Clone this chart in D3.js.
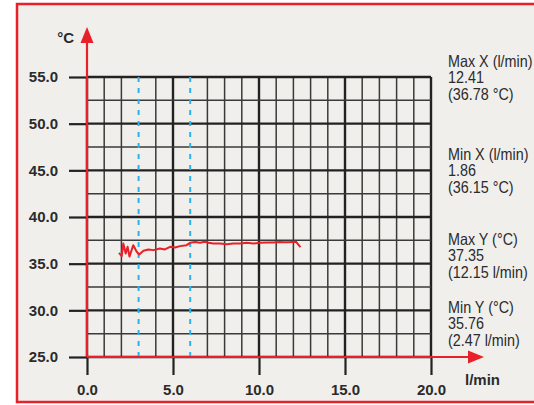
<!DOCTYPE html>
<html>
<head>
<meta charset="utf-8">
<script src="https://cdn.jsdelivr.net/npm/d3@7"></script>
<style>
  body { margin: 0; background: #fff; }
  text { font-family: "Liberation Sans", Arial, sans-serif; fill: #2b2b2b; }
</style>
</head>
<body>
<div id="canvas"></div>
<script>
// flow (l/min) vs temperature (°C) trace
const flow = [1.86, 2.02, 2.11, 2.25, 2.36, 2.47, 2.69, 2.89, 3.04, 3.28, 3.57, 3.86, 4.24, 4.53, 4.83, 5.12,
    5.41, 5.79, 5.99, 6.28, 6.57, 6.86, 7.05, 7.34, 7.73, 8.12, 8.51, 8.90, 9.28, 9.67, 10.06, 10.45,
    10.83, 11.22, 11.41, 11.71, 12.15, 12.41];
const temp = [36.15, 35.80, 37.16, 36.09, 36.81, 35.76, 36.98, 36.27, 35.98, 36.38, 36.52, 36.45, 36.63, 36.52, 36.81, 36.74,
    36.88, 36.98, 37.23, 37.31, 37.23, 37.34, 37.23, 37.16, 37.16, 37.09, 37.16, 37.16, 37.23, 37.16, 37.23, 37.27,
    37.27, 37.31, 37.30, 37.30, 37.35, 36.78];

const xTicks = [0, 5, 10, 15, 20];
const yTicks = [25, 30, 35, 40, 45, 50, 55];
const markers = [3, 6];

const stats = [
    ["Max X (l/min)", "12.41", "(36.78 °C)"],
    ["Min X (l/min)", "1.86", "(36.15 °C)"],
    ["Max Y (°C)", "37.35", "(12.15 l/min)"],
    ["Min Y (°C)", "35.76", "(2.47 l/min)"]
];
const statTop = [67, 160, 245, 313];

const red = "#e8202a";
const width = 534;
const height = 405;
const margin = { top: 77, left: 87, bottom: 48, right: 103 };
const iwidth = width - margin.left - margin.right;
const iheight = height - margin.top - margin.bottom;

const svg = d3.select("#canvas").append("svg")
    .attr("width", width)
    .attr("height", height);

// panel
svg.append("rect")
    .attr("x", 17).attr("y", 4)
    .attr("width", 540).attr("height", 398)
    .attr("fill", "#f0efeb")
    .attr("stroke", red)
    .attr("stroke-width", 2.5);

const g = svg.append("g").attr("transform", `translate(${margin.left},${margin.top})`);

const x = d3.scaleLinear().domain([0, 20]).range([0, iwidth]);
const y = d3.scaleLinear().domain([25, 55]).range([iheight, 0]);

// grid
const vLines = d3.range(0, 21).filter(v => !markers.includes(v));
g.selectAll(".vgrid").data(vLines).enter().append("line")
    .attr("x1", d => x(d)).attr("x2", d => x(d))
    .attr("y1", 0).attr("y2", iheight)
    .attr("stroke", d => d % 5 === 0 ? "#222" : "#3a3a3a")
    .attr("stroke-width", d => d % 5 === 0 ? 2.4 : 1.5);

const hLines = d3.range(25, 55.1, 2.5);
g.selectAll(".hgrid").data(hLines).enter().append("line")
    .attr("x1", 0).attr("x2", iwidth)
    .attr("y1", d => y(d)).attr("y2", d => y(d))
    .attr("stroke", d => d % 5 === 0 ? "#222" : "#3a3a3a")
    .attr("stroke-width", d => d % 5 === 0 ? 2.4 : 1.5);

g.selectAll(".marker").data(markers).enter().append("line")
    .attr("x1", d => x(d)).attr("x2", d => x(d))
    .attr("y1", 0).attr("y2", iheight)
    .attr("stroke", "#29b3ee")
    .attr("stroke-width", 2)
    .attr("stroke-dasharray", "5,6");

// axes
const yAxis = g.append("g")
    .call(d3.axisLeft(y).tickValues(yTicks).tickFormat(d3.format(".1f")).tickSize(18).tickPadding(11));
const xAxis = g.append("g")
    .attr("transform", `translate(0, ${iheight})`)
    .call(d3.axisBottom(x).tickValues(xTicks).tickFormat(d3.format(".1f")).tickSize(18).tickPadding(9));
[yAxis, xAxis].forEach(a => {
    a.select(".domain").remove();
    a.selectAll("line").attr("stroke", "#222").attr("stroke-width", 2.2);
    a.selectAll("text")
        .attr("fill", "#2b2b2b")
        .style("font-family", '"Liberation Sans", Arial, sans-serif')
        .style("font-weight", "bold")
        .style("font-size", "15px");
});

// trace
g.append("path")
    .datum(flow.map((f, i) => [f, temp[i]]))
    .attr("fill", "none")
    .attr("stroke", red)
    .attr("stroke-width", 2)
    .attr("stroke-linejoin", "round")
    .attr("d", d3.line().x(d => x(d[0])).y(d => y(d[1])));

// red axes with arrows
g.append("line")
    .attr("x1", 0).attr("x2", 0).attr("y1", iheight).attr("y2", -36)
    .attr("stroke", red).attr("stroke-width", 2.2);
g.append("path")
    .attr("d", `M-6.5,-34L0,-50L6.5,-34Z`)
    .attr("fill", red);
g.append("line")
    .attr("x1", 0).attr("x2", iwidth + 40).attr("y1", iheight).attr("y2", iheight)
    .attr("stroke", red).attr("stroke-width", 2.2);
g.append("path")
    .attr("d", `M${iwidth + 37},${iheight - 6.5}L${iwidth + 53},${iheight}L${iwidth + 37},${iheight + 6.5}Z`)
    .attr("fill", red);

// units
svg.append("text")
    .attr("x", 74).attr("y", 43)
    .attr("text-anchor", "end")
    .style("font-weight", "bold").style("font-size", "15px")
    .text("°C");
svg.append("text")
    .attr("x", 465).attr("y", 385)
    .style("font-weight", "bold").style("font-size", "15px")
    .text("l/min");

// stats (condensed look)
stats.forEach((s, i) => {
    const t = svg.append("text")
        .attr("transform", `translate(448,${statTop[i]}) scale(0.87,1)`)
        .style("font-size", "16.5px");
    s.forEach((line, j) => {
        t.append("tspan").attr("x", 0).attr("dy", j === 0 ? 0 : 16.5).text(line);
    });
});
</script>
</body>
</html>
